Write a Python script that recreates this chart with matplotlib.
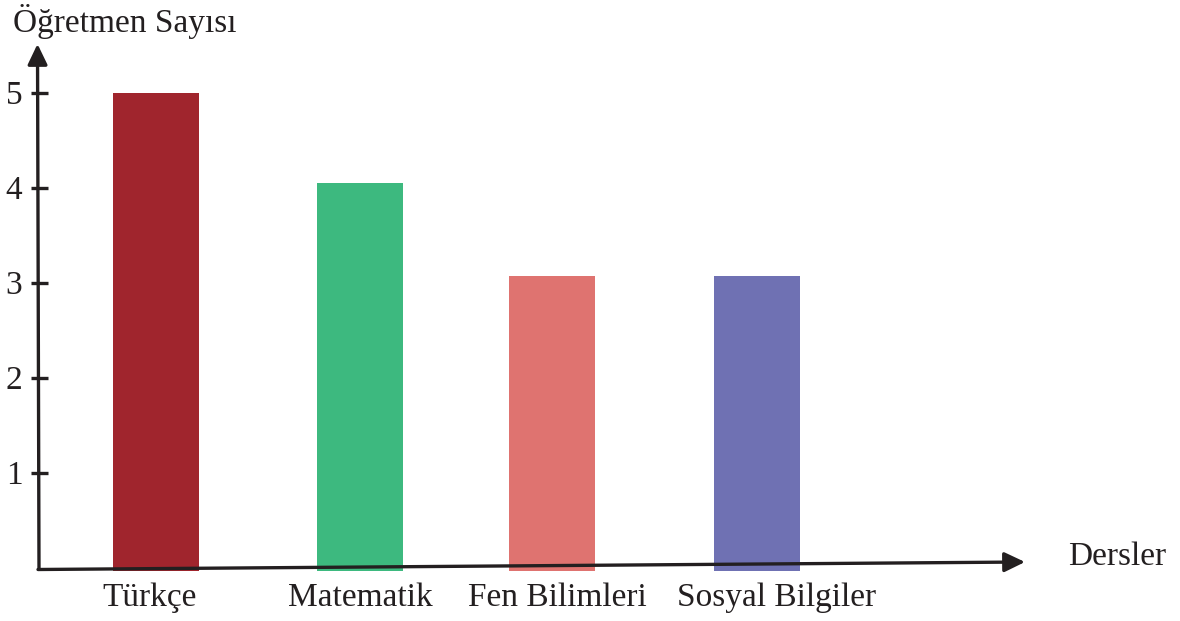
import matplotlib.pyplot as plt

# ders başına öğretmen sayıları
dersler = ["Türkçe", "Matematik", "Fen Bilimleri", "Sosyal Bilgiler"]
ogretmen_sayisi = [5, 4.05, 3.07, 3.07]
renkler = ["#A0252D", "#3DB97F", "#DF7370", "#6F71B3"]
y_ticks = [1, 2, 3, 4, 5]

# yatay eksen piksel benzeri birimde, dikey eksen değer biriminde
bar_x = [156, 360, 552, 757]
label_x = [150, 360, 557, 777]
bar_w = 86
px = 95.0  # bir birim = 95 piksel


def pv(y_pixel):
    return (568 - y_pixel) / px


plt.rcParams["font.family"] = ["Liberation Serif", "DejaVu Serif"]

fig = plt.figure(figsize=(11.8, 6.21), dpi=100)
ax = fig.add_axes([0, 0, 1, 1])
ax.set_xlim(0, 1180)
ax.set_ylim(pv(621), pv(0))
ax.axis("off")

# sütunlar
ax.bar(bar_x, [v - pv(571) for v in ogretmen_sayisi], width=bar_w,
       bottom=pv(571), color=renkler, zorder=2)

# eksenler (hafif eğik, ok uçlu)
arrow = dict(arrowstyle="-|>,head_length=1.25,head_width=0.6",
             mutation_scale=10, lw=2.4, color="#231f20",
             shrinkA=0, shrinkB=0)
ax.annotate("", xy=(37.5, pv(44)), xytext=(39, pv(569)),
            arrowprops=arrow, zorder=3)
ax.annotate("", xy=(1025, pv(562)), xytext=(38, pv(569.5)),
            arrowprops=arrow, zorder=3)

# y ekseni çentikleri ve etiketleri
for t in y_ticks:
    ax.plot([31, 48], [t, t], color="#231f20", lw=2.4, zorder=3,
            solid_capstyle="butt")
    ax.text(14, t - 3 / px, str(t), ha="center", va="center", fontsize=24,
            color="#231f20")

for name, x in zip(dersler, label_x):
    ax.text(x, pv(598), name, ha="center", va="center", fontsize=24,
            color="#231f20")

ax.text(13, pv(21), "Öğretmen Sayısı", ha="left", va="center",
        fontsize=24, color="#231f20")
ax.text(1117, pv(557), "Dersler", ha="center", va="center",
        fontsize=24, color="#231f20")

fig.savefig("out.png", dpi=100)
